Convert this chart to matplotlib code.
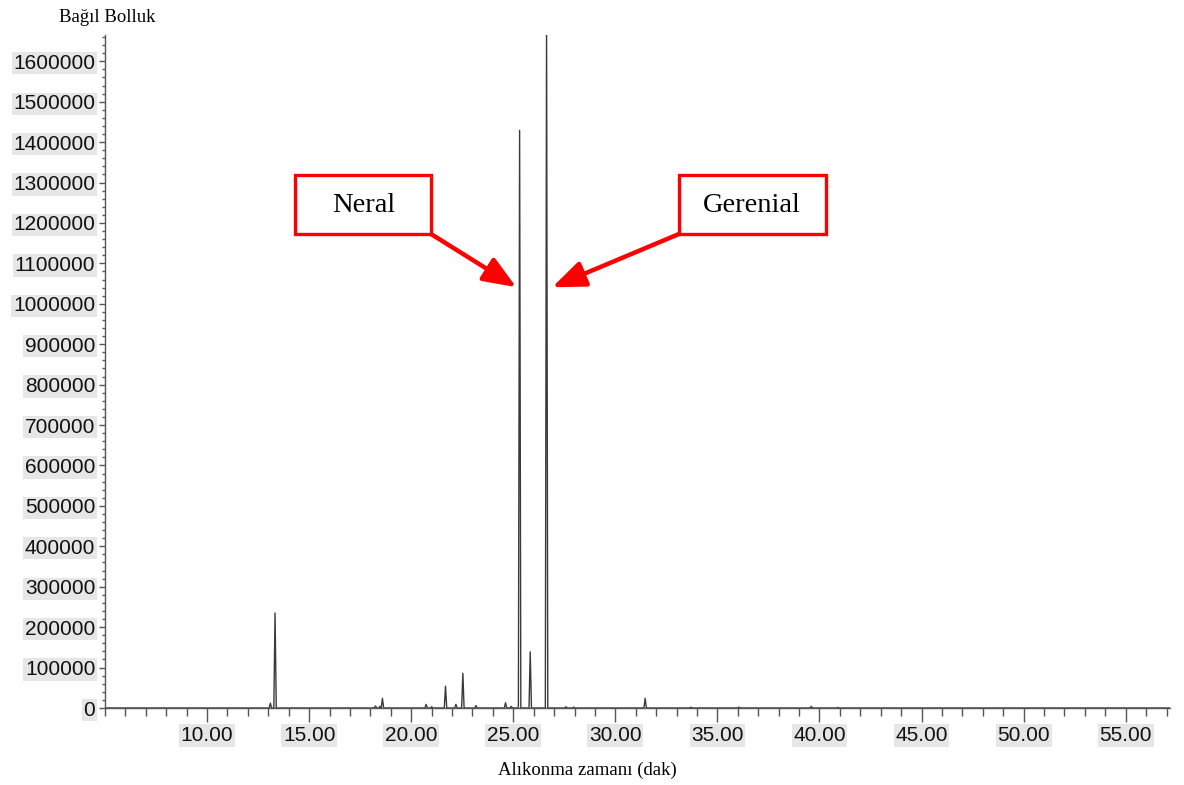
import matplotlib
matplotlib.use('Agg')
from matplotlib import pyplot as plt
from matplotlib.ticker import MultipleLocator, FuncFormatter
from matplotlib.patches import Rectangle

# peak list (retention time in min, abundance)
peak_times = [13.10, 13.33, 18.25, 18.47, 18.59, 20.73, 21.00, 21.68, 22.19, 22.53,
              23.17, 24.62, 24.90, 25.31, 25.83, 26.63, 27.58, 27.96, 31.46, 33.70,
              36.05, 39.60, 40.90]
peak_heights = [12000, 235000, 5000, 4000, 24000, 9000, 3000, 54000, 9000, 86000,
                6000, 13000, 4000, 1429000, 139000, 1700000, 3000, 2000, 24000, 2000,
                2000, 4000, 1500]
x_major = [10, 15, 20, 25, 30, 35, 40, 45, 50, 55]
y_major = list(range(0, 1600001, 100000))
neral_label = 'Neral'
geranial_label = 'Gerenial'

# build the trace as spikes on a flat baseline
half_w = 0.06
trace_t = [5.0]
trace_y = [0]
for t, h in zip(peak_times, peak_heights):
    trace_t += [t - half_w, t, t + half_w]
    trace_y += [0, h, 0]
trace_t.append(57.3)
trace_y.append(0)

W, H = 1184, 785
fig = plt.figure(figsize=(W / 100, H / 100), dpi=100)
ax = fig.add_axes([105 / W, 1 - 708 / H, (1170 - 105) / W, (708 - 35) / H])

ax.plot(trace_t, trace_y, color='#3a3a3a', lw=1.0)
ax.set_xlim(5.0, 57.17)
ax.set_ylim(0, 1665000)

for s in ['top', 'right']:
    ax.spines[s].set_visible(False)
for s in ['left', 'bottom']:
    ax.spines[s].set_color('#555555')
    ax.spines[s].set_linewidth(1.0)

ax.set_xticks(x_major)
ax.xaxis.set_minor_locator(MultipleLocator(1))
ax.set_yticks(y_major)
ax.yaxis.set_minor_locator(MultipleLocator(20000))
ax.xaxis.set_major_formatter(FuncFormatter(lambda v, p: f'{v:.2f}'))
ax.yaxis.set_major_formatter(FuncFormatter(lambda v, p: f'{int(v)}'))

ax.tick_params(axis='x', which='major', length=10, width=1, color='#555555', pad=3)
ax.tick_params(axis='x', which='minor', length=6, width=1, color='#555555')
ax.tick_params(axis='y', which='major', length=4, width=1, color='#555555', pad=3)
ax.tick_params(axis='y', which='minor', length=2.5, width=1, color='#555555')

for lab in ax.get_xticklabels() + ax.get_yticklabels():
    lab.set_fontfamily('Liberation Sans')
    lab.set_fontsize(15)
    lab.set_color('#111111')
    lab.set_bbox(dict(facecolor='#e6e6e6', edgecolor='none', pad=1.2))

fig.text(59 / W, 1 - 17 / H, 'Bağıl Bolluk', family='Liberation Serif',
         fontsize=13.5, ha='left', va='center')
fig.text(587 / W, 1 - 770 / H, 'Alıkonma zamanı (dak)', family='Liberation Serif',
         fontsize=13.5, ha='center', va='center')

# labelled boxes with red arrows
for (x0, y0, x1, y1) in [(295, 175, 431, 234), (679, 175, 826, 234)]:
    fig.patches.append(Rectangle((x0 / W, 1 - y1 / H), (x1 - x0) / W, (y1 - y0) / H,
                                 transform=fig.transFigure, fill=True, facecolor='white',
                                 edgecolor='#ff0000', lw=2.4, zorder=3))
fig.text(364 / W, 1 - 205 / H, neral_label, family='Liberation Serif', fontsize=20.5,
         ha='center', va='center', zorder=4)
fig.text(752 / W, 1 - 205 / H, geranial_label, family='Liberation Serif', fontsize=20.5,
         ha='center', va='center', zorder=4)

neral_t = peak_times[peak_heights.index(1429000)]
ger_t = peak_times[peak_heights.index(1700000)]
arrow = dict(arrowstyle='-|>,head_length=1.0,head_width=0.4', color='#ff0000',
             lw=3.2, shrinkA=0, shrinkB=0, mutation_scale=20)
ax.annotate('', xy=(neral_t - 0.16, 1041000), xycoords='data',
            xytext=(431, H - 234), textcoords='figure pixels', arrowprops=arrow)
ax.annotate('', xy=(ger_t + 0.28, 1041000), xycoords='data',
            xytext=(679, H - 234), textcoords='figure pixels', arrowprops=arrow)

fig.savefig('out.png', dpi=100)
